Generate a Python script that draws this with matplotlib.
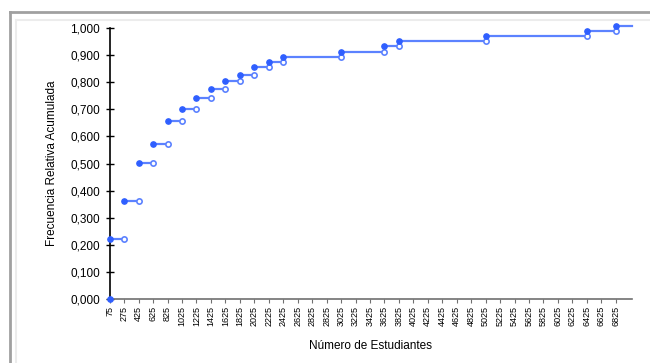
import matplotlib
matplotlib.use("Agg")
import matplotlib.pyplot as plt
from matplotlib.lines import Line2D

plt.rcParams['font.family'] = ['Liberation Sans', 'DejaVu Sans']

# etiquetas del eje x (numero de estudiantes)
x_labels = ["75", "275", "425", "625", "825", "1025", "1225", "1425", "1625",
            "1825", "2025", "2225", "2425", "2625", "2825", "2825", "3025",
            "3225", "3425", "3625", "3825", "4025", "4225", "4425", "4625",
            "4825", "5025", "5225", "5425", "5625", "5825", "6025", "6225",
            "6425", "6625", "6825"]

# inicio de cada escalon y frecuencia relativa acumulada
step_start = ["75", "275", "425", "625", "825", "1025", "1225", "1425", "1625",
              "1825", "2025", "2225", "2425", "3025", "3625", "3825", "5025",
              "6425", "6825"]
frec_acum = [0.219, 0.362, 0.501, 0.573, 0.659, 0.702, 0.741, 0.774, 0.804,
             0.827, 0.857, 0.875, 0.895, 0.913, 0.933, 0.953, 0.973, 0.991, 1.010]

y_ticks = [0.0, 0.1, 0.2, 0.3, 0.4, 0.5, 0.6, 0.7, 0.8, 0.9, 1.0]

# posicion de cada escalon sobre el eje de categorias
step_idx = [x_labels.index(s) for s in step_start]

x_max = 36.1
azul = "#2f5fff"
linea = "#5c82ff"

fig = plt.figure(figsize=(6.5, 3.63), dpi=100)
ax = fig.add_axes([0.1688, 0.1771, 0.8030, 0.7449])

# punto inicial en cero
ax.plot([0], [0], "o", color=azul, ms=3.8, clip_on=False, zorder=5)

for i, (xi, yi) in enumerate(zip(step_idx, frec_acum)):
    if i + 1 < len(step_idx):
        xf = step_idx[i + 1]
        ax.plot([xi, xf], [yi, yi], "-", color=linea, lw=1.6, clip_on=False, zorder=3)
        ax.plot([xf], [yi], "o", mfc="white", mec=linea, mew=1.2, ms=3.8,
                clip_on=False, zorder=4)
    else:
        ax.plot([xi, x_max], [yi, yi], "-", color=linea, lw=1.6, clip_on=False, zorder=3)
    ax.plot([xi], [yi], "o", color=azul, ms=3.8, clip_on=False, zorder=5)

ax.set_xlim(0, x_max)
ax.set_ylim(0, 1.0)
ax.set_xticks(range(len(x_labels)))
ax.set_xticklabels(x_labels, rotation=90, fontsize=6.5)
ax.set_yticks(y_ticks)
ax.set_yticklabels(["{:.3f}".format(v).replace(".", ",") for v in y_ticks], fontsize=8.5)

ax.spines["top"].set_visible(False)
ax.spines["right"].set_visible(False)
ax.spines["left"].set_color("black")
ax.spines["left"].set_linewidth(1.2)
ax.spines["bottom"].set_color("#707070")
ax.spines["bottom"].set_linewidth(1.2)
ax.tick_params(axis="y", direction="inout", length=6, width=1, color="black", pad=4)
ax.tick_params(axis="x", direction="out", length=3, width=0.8, color="#707070", pad=2)

ax.set_xlabel("Número de Estudiantes", fontsize=8.5, labelpad=10)
ax.set_ylabel("Frecuencia Relativa Acumulada", fontsize=8.5, labelpad=9)

# marco gris del grafico
fig.add_artist(Line2D([10 / 650, 10 / 650], [0, 1 - 12 / 363], transform=fig.transFigure,
                      color="#a0a0a0", lw=2))
fig.add_artist(Line2D([10 / 650, 1], [1 - 12 / 363, 1 - 12 / 363], transform=fig.transFigure,
                      color="#a0a0a0", lw=2))
fig.add_artist(Line2D([15.5 / 650, 15.5 / 650], [0, 1 - 19.5 / 363], transform=fig.transFigure,
                      color="#ececec", lw=1.5))
fig.add_artist(Line2D([15.5 / 650, 1], [1 - 19.5 / 363, 1 - 19.5 / 363], transform=fig.transFigure,
                      color="#ececec", lw=1.5))

fig.savefig("out.png", dpi=100)
